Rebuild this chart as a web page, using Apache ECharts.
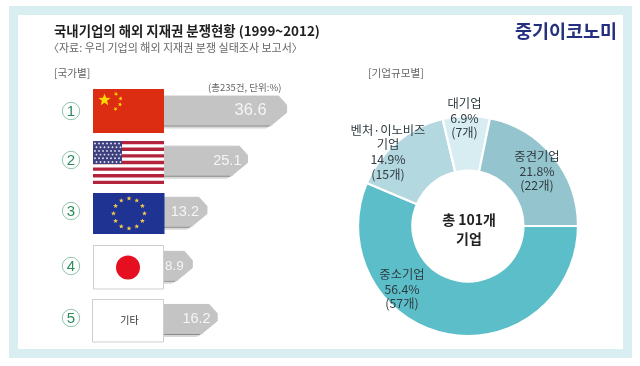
<!DOCTYPE html>
<html><head><meta charset="utf-8">
<style>html,body{margin:0;padding:0;background:#fff}#c{width:640px;height:366px}</style>
<script src="https://cdn.jsdelivr.net/npm/echarts@6/dist/echarts.min.js"></script>
</head><body><div id="c"></div>
<script>
// ---- data ----
const countries = ['중국','미국','EU','일본','기타'];
const countryRanks = ['1','2','3','4','5'];
const countryShares = [36.6, 25.1, 13.2, 8.9, 16.2];
const sizeNames = ['중소기업','벤처·이노비즈\n기업','대기업','중견기업'];
const sizeShares = [56.4, 14.9, 6.9, 21.8];
const sizeCounts = [57, 15, 7, 22];
// ---- style ----
const FONT = '"Noto Sans CJK KR","Noto Sans",sans-serif';
const SANS = '"Liberation Sans",Arial,sans-serif';
const sizeColors = ['#5cbec9','#b4d8e0','#d8edf1','#94c4cd'];
const rowNudge = [0,-2,-3,-1,0];
const valueFont = [16.5,14.5,14.5,13.5,14.5];
const valueInset = [20,6,8,8.5,6.5];
const rankY = [111,160,211,266,318];
const pieLabelSpots = [[402,289],[388,152],[464.5,118],[537,171]];

function star(cx,cy,R,rot){
  const pts=[];
  for(let i=0;i<10;i++){
    const r=i%2?R*0.42:R, a=-Math.PI/2+(rot||0)+i*Math.PI/5;
    pts.push([cx+r*Math.cos(a),cy+r*Math.sin(a)]);
  }
  return pts;
}
const els=[];
function rect(x,y,w,h,fill,stroke,z){els.push({type:'rect',silent:true,z:z==null?100:z,shape:{x,y,width:w,height:h},style:{fill,stroke:stroke||null,lineWidth:stroke?1:0}});}
function poly(points,fill){els.push({type:'polygon',silent:true,z:100,shape:{points},style:{fill}});}
function circ(cx,cy,r,fill,stroke){els.push({type:'circle',silent:true,z:100,shape:{cx,cy,r},style:{fill,stroke:stroke||null,lineWidth:stroke?1:0}});}
function text(x,y,t,font,fill,align,weight,lh,family){els.push({type:'text',silent:true,z:101,x,y,style:{text:t,fontFamily:family||FONT,fontSize:font,fontWeight:weight||'normal',fill,align:align||'left',verticalAlign:'middle',lineHeight:lh}});}

// frame
rect(9,6,623,352,'#d9eef0',null,-2);
rect(18,15,605,334,'#ffffff',null,-1);

// China
rect(93,89,71,44,'#dc2d12');
poly(star(104.5,100,6.4),'#fbd800');
[[116,94,0.5],[120.5,98.5,1],[120,104.5,0.2],[115.5,109,0.7]].forEach(s=>poly(star(s[0],s[1],2.3,s[2]),'#fbd800'));
// USA
rect(93,141,71,43,'#ffffff');
for(let i=0;i<13;i+=2) rect(93,141+i*43/13,71,43/13,'#b3243c');
rect(93,141,29,23,'#3d3f7e');
for(let r=0;r<6;r++) for(let c=0;c<7;c++) circ(95+c*4+(r%2?1.5:0),143.5+r*3.7,0.95,'#e4e5f2');
// EU
rect(93,193,71.5,41,'#1f3393');
for(let i=0;i<12;i++){
  const a=i*Math.PI/6; poly(star(129+15.5*Math.cos(a),213.5+15*Math.sin(a),2.6),'#f2c94c');
}
// Japan
rect(93.5,245.5,70,43.5,'#ffffff','#cfcfcf');
circ(128,267.5,12,'#e50f1f');
// Others
rect(92.5,299.5,71,42.5,'#ffffff','#cfcfcf');
text(129.5,320.5,'기타',10,'#333333','center');

countryRanks.forEach((n,i)=>{
  circ(71,rankY[i],8.7,'#ffffff','#8fc4a8');
  text(71,rankY[i]+0.5,n,15,'#2e8b5b','center','normal',null,SANS);
});
text(54,31,'국내기업의 해외 지재권 분쟁현황 (1999~2012)',13.4,'#1f1f1f','left','700');
text(48,48,'〈자료: 우리 기업의 해외 지재권 분쟁 실태조사 보고서〉',11,'#666666');
text(54,73,'[국가별]',10.6,'#666666');
text(208,87,'(총235건, 단위:%)',9.5,'#666666');
text(368,73,'[기업규모별]',10.6,'#666666');
text(515,31,'중기이코노미',18.5,'#24307e','left','700');
text(469,229.5,'총 101개\n기업',14,'#222222','center','700',19);
sizeNames.forEach((n,i)=>{
  text(pieLabelSpots[i][0],pieLabelSpots[i][1],n+'\n'+sizeShares[i].toFixed(1)+'%\n('+sizeCounts[i]+'개)',12.3,'#2f3b40','center','normal',14.7);
});

function renderBar(params,api){
  const i=params.dataIndex, v=api.value(0);
  const end=api.coord([v,i]), start=api.coord([0,i]);
  const cy=end[1]+rowNudge[i], x0=start[0], x1=end[0], h=14.5;
  const c=Math.min(8,(x1-x0)/3);
  const pts=[[x0,cy-h],[x1-c,cy-h],[x1,cy-5.5],[x1,cy+2],[x1-c*1.9,cy+h],[x0,cy+h]];
  return {type:'group',children:[
    {type:'polygon',shape:{points:[[x0,cy+h+3.5],[x1-c*2.6,cy+h+3.5],[x1-c*1.7,cy+h],[x0,cy+h]]},style:{fill:'#bdbdbd',opacity:0.6}},
    {type:'polygon',shape:{points:[[x0,cy+h+1.5],[x1-c*2.2,cy+h+1.5],[x1-c*1.9,cy+h-1],[x0,cy+h-1]]},style:{fill:'#7f7f7f',opacity:0.85}},
    {type:'polygon',shape:{points:pts},style:{fill:'#c4c4c4',stroke:'#c4c4c4',lineWidth:1,lineJoin:'round'}},
    {type:'text',style:{text:v.toFixed(1),x:x1-valueInset[i],y:cy,align:'right',verticalAlign:'middle',
      fill:'#f5f5f5',fontFamily:SANS,fontSize:valueFont[i],fontWeight:'normal'}}
  ]};
}

const chart=echarts.init(document.getElementById('c'));
chart.setOption({
  animation:false,
  graphic:{elements:els},
  grid:{left:162,width:340.5,top:84.5,height:260.5},
  xAxis:{type:'value',min:0,max:100,show:false},
  yAxis:{type:'category',data:countries,inverse:true,show:false},
  series:[
    {type:'custom',coordinateSystem:'cartesian2d',encode:{x:0,y:1},data:countryShares.map((v,i)=>[v,i]),renderItem:renderBar,z:2,silent:true},
    {type:'pie',center:[468,226],radius:[55.5,110],startAngle:0,clockwise:true,silent:true,z:3,
     itemStyle:{borderColor:'#ffffff',borderWidth:2.2},
     data:sizeNames.map((n,i)=>({name:n,value:sizeShares[i],itemStyle:{color:sizeColors[i]}})),
     label:{show:false},labelLine:{show:false}}
  ]
});
</script></body></html>
